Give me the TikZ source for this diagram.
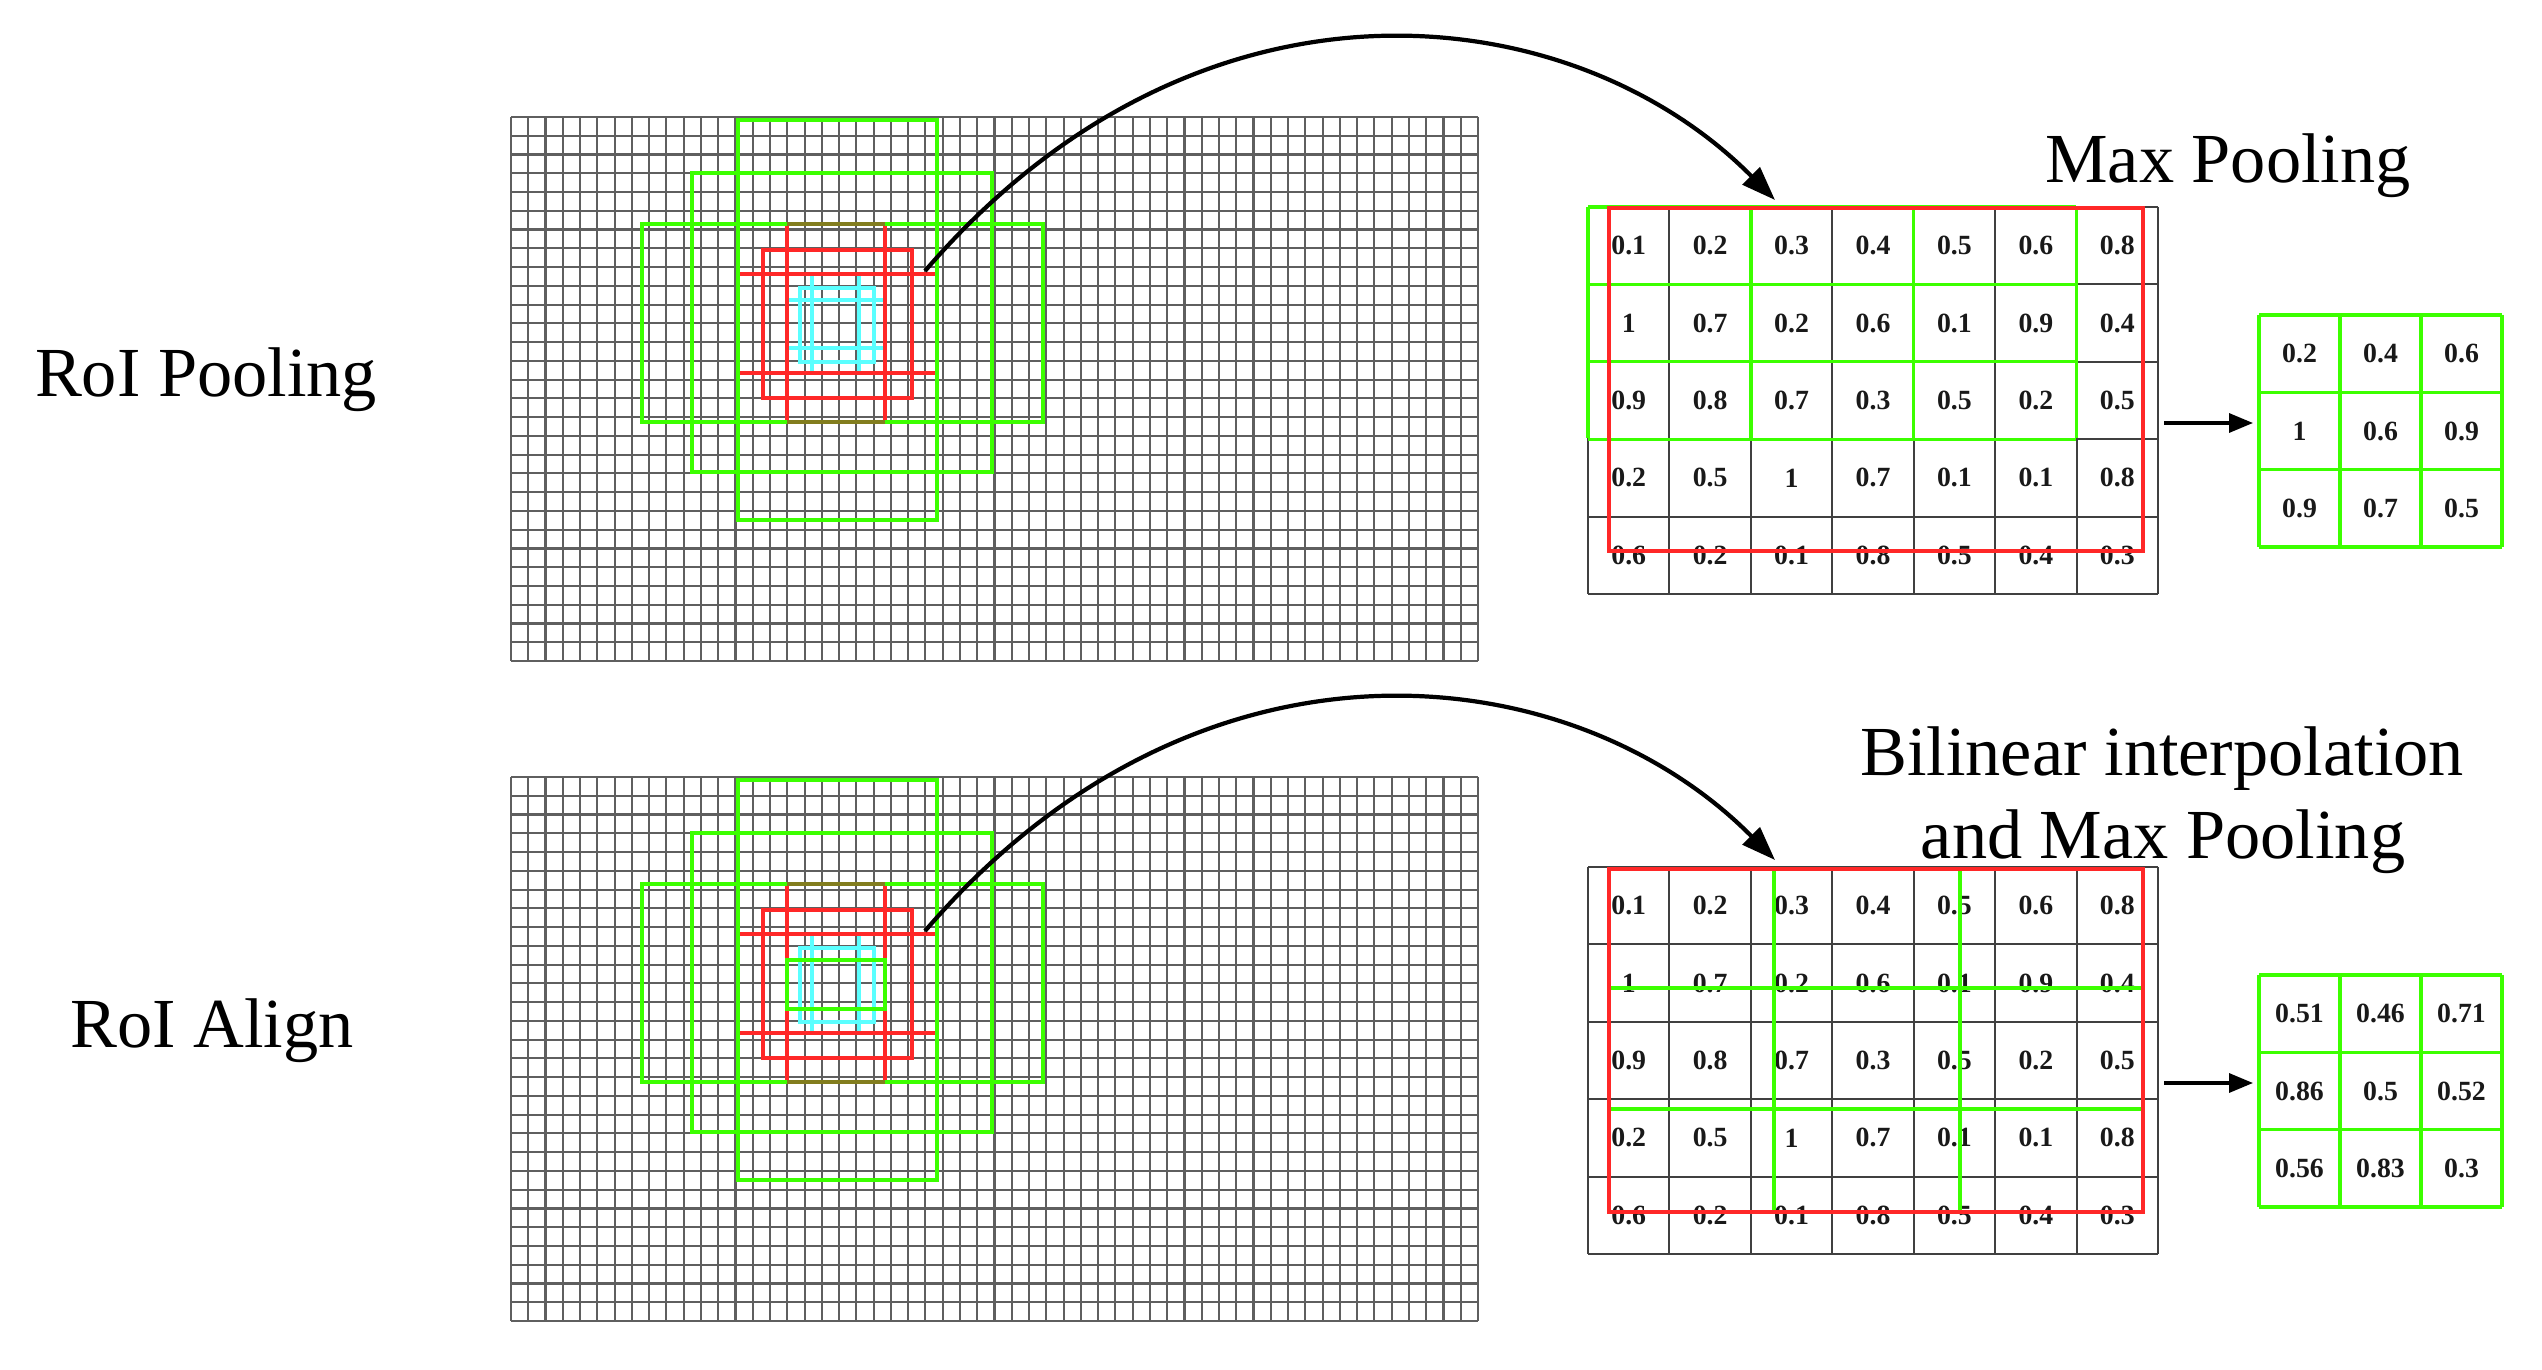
\documentclass[tikz,border=0pt]{standalone}
\usepackage{fontspec}
\setmainfont{Liberation Serif}
\usetikzlibrary{arrows.meta}
\definecolor{gline}{RGB}{60,255,0}
\definecolor{rline}{RGB}{255,40,40}
\definecolor{cline}{RGB}{90,255,255}
\definecolor{gridc}{RGB}{95,95,95}
\definecolor{olivec}{RGB}{130,125,30}
\begin{document}
\begin{tikzpicture}[x=0.01cm,y=-0.01cm,
  gridline/.style={draw=gridc, line width=0.6pt},
  grn/.style={draw=gline, line width=0.95pt},
  rd/.style={draw=rline, line width=0.9pt},
  olive/.style={draw=olivec, line width=0.9pt},
  cy/.style={draw=cline, line width=0.9pt},
  tabline/.style={draw=black!75, line width=0.55pt},
  num/.style={font=\fontsize{7.9}{8}\selectfont\bfseries, text=black!90, inner sep=0pt},
  lbl/.style={font=\fontsize{20}{24}\selectfont, inner sep=0pt, anchor=base},
  bigarrow/.style={line width=1.2pt, -{Triangle[length=0.34cm,width=0.24cm]}},
  smallarrow/.style={line width=0.95pt, -{Triangle[length=0.24cm,width=0.19cm]}},
]
\useasboundingbox[fill=white] (0,0) rectangle (2542,1370);

% labels
\node[lbl] (lblRoIP) at (206,397) {RoI Pooling};
\node[lbl] (lblRoIA) at (212,1047) {RoI Align};
\node[lbl] (lblMax) at (2228,183) {Max Pooling};
\node[lbl] (lblBil) at (2162,775) {Bilinear interpolation};
\node[lbl] (lblAnd) at (2163,858) {and Max Pooling};

\foreach \p/\dy in {1/0,2/660}{
\begin{scope}[shift={(0,\dy)}]
  % feature map grid
  \foreach \k in {0,...,56} \draw[gridline] ({511+967/56*\k},117) -- ++(0,544);
  \foreach \k in {0,...,29} \draw[gridline] (511,{117+544/29*\k}) -- ++(967,0);
  % cyan anchors
  \draw[cy] (800,288) rectangle (874,362);
  \draw[cy] (812,274) rectangle (859,373);
  \ifnum\p=1\relax \draw[cy] (787,300) rectangle (885,348); \fi
  % red anchors
  \draw[rd] (787,224) rectangle (885,422);
  \draw[rd] (763,250) rectangle (912,398);
  \draw[rd] (738,274) rectangle (937,373);
  % green anchors
  \draw[grn] (738,120) rectangle (937,520);
  \draw[grn] (692,173) rectangle (992,472);
  \draw[grn] (642,224) rectangle (1043,422);
  \ifnum\p=2\relax \draw[grn] (787,300) rectangle (885,349); \fi
  \draw[olive] (787,224) -- (885,224) (787,422) -- (885,422);
  % feature table grid
  \foreach \k in {0,...,7} \draw[tabline] ({1588+81.43*\k},207) -- ++(0,387);
  \foreach \k in {0,...,5} \draw[tabline] (1588,{207+77.4*\k}) -- ++(570,0);
  \foreach \row [count=\j from 0] in {{0.1,0.2,0.3,0.4,0.5,0.6,0.8},{1,0.7,0.2,0.6,0.1,0.9,0.4},{0.9,0.8,0.7,0.3,0.5,0.2,0.5},{0.2,0.5,1,0.7,0.1,0.1,0.8},{0.6,0.2,0.1,0.8,0.5,0.4,0.3}}
    \foreach \v [count=\i from 0] in \row
      \node[num] (t\p-\j-\i) at ({1588+81.43*(\i+0.5)},{207+77.4*(\j+0.5)}) {\v};
  % output table grid
  \foreach \k in {0,...,3} \draw[grn] ({2259+81*\k},315) -- ++(0,232);
  \foreach \k in {0,...,3} \draw[grn] (2259,{315+77.33*\k}) -- ++(243,0);
  % arrows
  \coordinate (cs\p) at (925,271);
  \coordinate (ce\p) at (1775,200);
  \draw[bigarrow] (cs\p) .. controls (1201,-50) and (1574,-3) .. (ce\p);
  \coordinate (ts\p) at (2164,423);
  \coordinate (te\p) at (2253,423);
  \draw[smallarrow] (ts\p) -- (te\p);
\end{scope}
}

% top table overlays (RoI Pooling)
\foreach \k in {0,2,4,6} \draw[grn] ({1588+81.43*\k},207) -- ++(0,231.3);
\foreach \k in {0,1,2,3} \draw[grn] (1588,{207+77.4*\k}) -- ++(487.6,0);
\draw[rd] (1609,208) rectangle (2143,551);

% bottom table overlays (RoI Align)
\draw[rd] (1609,869) rectangle (2143,1212);
\draw[grn] (1774,871) -- (1774,1210) (1960,871) -- (1960,1210);
\draw[grn] (1611,988) -- (2141,988) (1611,1109) -- (2141,1109);

% output values
\foreach \row [count=\j from 0] in {{0.2,0.4,0.6},{1,0.6,0.9},{0.9,0.7,0.5}}
  \foreach \v [count=\i from 0] in \row
    \node[num] (oA-\j-\i) at ({2259+81*(\i+0.5)},{315+77.33*(\j+0.5)}) {\v};
\foreach \row [count=\j from 0] in {{0.51,0.46,0.71},{0.86,0.5,0.52},{0.56,0.83,0.3}}
  \foreach \v [count=\i from 0] in \row
    \node[num] (oB-\j-\i) at ({2259+81*(\i+0.5)},{975+77.33*(\j+0.5)}) {\v};
\end{tikzpicture}
\end{document}
